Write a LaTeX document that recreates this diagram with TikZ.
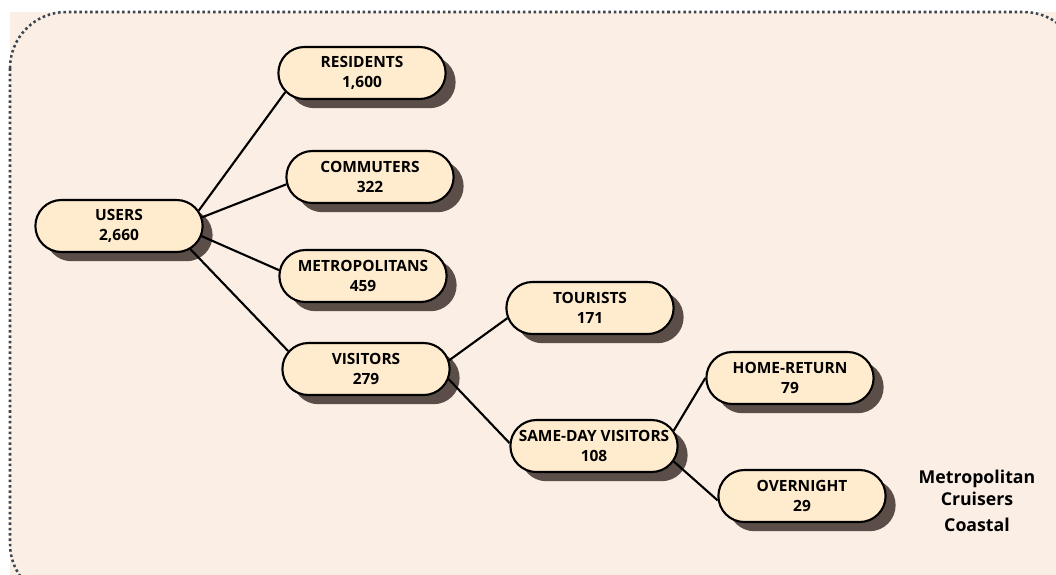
\documentclass[tikz,border=0pt]{standalone}
\usepackage{fontspec}
\setmainfont{Open Sans}
\usetikzlibrary{shapes.misc,shadows}
\definecolor{paper}{HTML}{FAEEE5}
\definecolor{cream}{HTML}{FFEBCD}
\definecolor{umber}{HTML}{5B4E48}
\definecolor{slate}{HTML}{3A4550}

\begin{document}
\begin{tikzpicture}[x=0.025cm,y=-0.025cm,line width=1.5pt,
    group node/.style={rounded rectangle,draw,fill=cream,minimum width=4.25cm,minimum height=1.3cm,
        inner sep=1pt,align=center,font=\bfseries\fontsize{11}{14.5}\selectfont,
        drop shadow={shadow xshift=0.25cm,shadow yshift=-0.23cm,fill=umber,opacity=1}}]
    \useasboundingbox (0,0) rectangle (1056,574);
    \clip (0,0) rectangle (1056,574);
    \fill[paper] (10,12) rectangle (1080,600);
    \draw[slate,dotted,line width=1.8pt,rounded corners=40] (10,12) rectangle (1080,600);

    \node[group node] (users) at (119,226) {USERS\\2,660};
    \node[group node] (res) at (362,73) {RESIDENTS\\1,600};
    \node[group node] (com) at (370,177) {COMMUTERS\\322};
    \node[group node] (met) at (363,276) {METROPOLITANS\\459};
    \node[group node] (vis) at (366,369) {VISITORS\\279};
    \node[group node] (tour) at (590,308) {TOURISTS\\171};
    \node[group node] (day) at (594,446) {SAME-DAY VISITORS\\108};
    \node[group node] (home) at (790,378) {HOME-RETURN\\79};
    \node[group node] (night) at (802,496) {OVERNIGHT\\29};

    \node[align=center,font=\bfseries\fontsize{12.6}{15.5}\selectfont] (note) at (977,501)
        {Metropolitan\\Cruisers\\[3pt]Coastal};

    \path
        (users.11) edge (res.194)
        (users.6) edge (com.185)
        (users.-7) edge (met.176)
        (users.-18) edge (vis.167)
        (vis.6) edge (tour.187)
        (vis.-7) edge (day.178)
        (day.11) edge (home.180)
        (day.-11) edge (night.183)
    ;
\end{tikzpicture}
\end{document}
